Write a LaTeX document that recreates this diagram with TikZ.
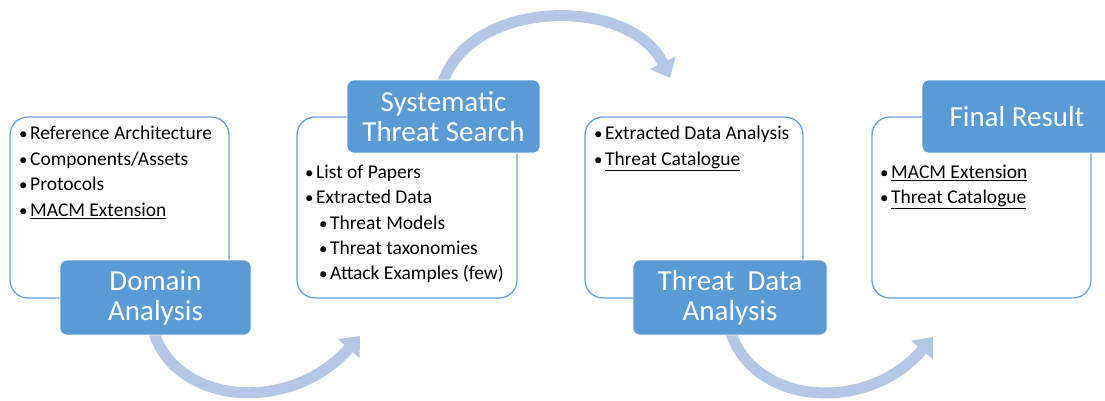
\documentclass[tikz,border=0pt]{standalone}
\usepackage{fontspec}
\setmainfont{Carlito}
\usetikzlibrary{arrows.meta}
\definecolor{accent}{RGB}{91,155,213}
\definecolor{flow}{RGB}{180,199,231}
\definecolor{frame}{RGB}{106,162,218}
\begin{document}
\begin{tikzpicture}[x=1pt,y=-1pt,
  panel/.style={draw=frame, line width=1.3pt, rounded corners=18pt, fill=white, inner sep=0pt},
  header/.style={fill=accent, draw=white, line width=0.6pt, rounded corners=7pt, text=white, align=center,
     inner sep=0pt, font=\fontsize{29}{30}\selectfont},
  item/.style={anchor=west, inner sep=0pt, text height=14pt, text depth=4.5pt, font=\fontsize{19.5}{22}\selectfont},
  flowarrow/.style={draw=flow, line width=11pt, -{Triangle[width=28pt,length=17pt]}}
]
\useasboundingbox (0,0) rectangle (1105,400);
\newcommand{\bul}{\makebox[11pt][l]{\fontsize{17}{17}\selectfont\textbullet}}

% arrows (behind)
\coordinate (a1s) at (153,330);
\coordinate (a1e) at (360,336);
\coordinate (a2s) at (442,85);
\coordinate (a2e) at (670,78);
\coordinate (a3s) at (730,330);
\coordinate (a3e) at (933,337);
\draw[flowarrow] (a1s) .. controls (175,405) and (290,415) .. (a1e);
\draw[flowarrow] (a2s) .. controls (468,-2) and (630,-5) .. (a2e);
\draw[flowarrow] (a3s) .. controls (752,405) and (867,415) .. (a3e);

% panels
\node[panel, minimum width=219pt, minimum height=181pt] (panelA) at (119.5,207.5) {};
\node[panel, minimum width=220pt, minimum height=181pt] (panelB) at (407,207.5) {};
\node[panel, minimum width=218pt, minimum height=181pt] (panelC) at (694,207.5) {};
\node[panel, minimum width=219pt, minimum height=181pt] (panelD) at (981.5,207.5) {};

% headers
\node[header, minimum width=191pt, minimum height=75pt] (headA) at (155.5,297.5) {Domain\\Analysis};
\node[header, minimum width=193pt, minimum height=73pt] (headB) at (443.5,116.5) {Systematic\\Threat Search};
\node[header, minimum width=194pt, minimum height=75pt] (headC) at (730,297.5) {Threat\ \ Data\\Analysis};
\node[header, minimum width=190pt, minimum height=73pt] (headD) at (1017,116.5) {Final Result};

% panel A items
\node[item] (tA1) at (19,135) {\bul Reference Architecture};
\node[item] (tA2) at (19,160.5) {\bul Components/Assets};
\node[item] (tA3) at (19,186) {\bul Protocols};
\node[item] (tA4) at (19,211.5) {\bul\underline{MACM Extension}};

% panel B items
\node[item] (tB1) at (305,174) {\bul List of Papers};
\node[item] (tB2) at (305,199) {\bul Extracted Data};
\node[item] (tB3) at (319,224.5) {\bul Threat Models};
\node[item] (tB4) at (319,250) {\bul Threat taxonomies};
\node[item] (tB5) at (319,275) {\bul Attack Examples (few)};

% panel C items
\node[item] (tC1) at (594,135) {\bul Extracted Data Analysis};
\node[item] (tC2) at (594,160.5) {\bul\underline{Threat Catalogue}};

% panel D items
\node[item] (tD1) at (880,173.5) {\bul\underline{MACM Extension}};
\node[item] (tD2) at (880,199) {\bul\underline{Threat Catalogue}};
\end{tikzpicture}
\end{document}
